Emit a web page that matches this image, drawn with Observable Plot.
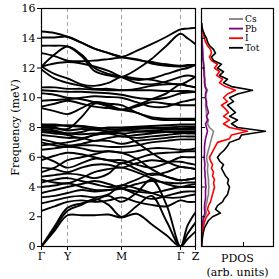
<!DOCTYPE html>
<html><head><meta charset="utf-8">
<script src="https://cdn.jsdelivr.net/npm/d3@7"></script>
<script src="https://cdn.jsdelivr.net/npm/@observablehq/plot@0.6"></script>
<style>
html,body{margin:0;padding:0;background:#fff;}
#wrap{position:relative;width:279px;height:279px;overflow:hidden;}
#wrap svg{position:absolute;top:0;}
#wrap svg, #wrap svg text, #wrap svg tspan{font-family:"DejaVu Serif","Liberation Serif",serif !important;}
</style></head>
<body><div id="wrap"></div>
<script>
// k-path (tick positions along path) and labels
const kPos = [0, 26, 80, 139, 154];
const kLabels = ["Γ", "Y", "M", "Γ", "Z"];
const kGrid = [0, 13, 26, 40, 53, 67, 80, 95, 110, 125, 139, 146, 154];
const yTicks = [0, 2, 4, 6, 8, 10, 12, 14, 16];

// phonon bands (meV) sampled on kGrid
const bands = [
  [14.45,14.35,14.1,13.7,13.3,13.0,12.75,13.15,13.6,14.1,14.6,14.65,14.7],
  [14.05,14.05,14.1,13.7,13.3,13.0,12.75,12.55,12.4,12.25,12.15,12.2,12.2],
  [13.5,13.5,13.45,12.8,11.8,11.5,11.4,11.9,12.6,13.5,14.3,14.0,13.6],
  [13.0,12.8,12.5,12.45,12.5,12.6,12.7,12.6,12.3,12.15,12.1,12.15,12.2],
  [12.1,12.9,13.45,12.9,12.0,11.6,11.4,11.2,11.3,11.6,11.9,12.0,12.2],
  [12.1,12.3,12.4,12.3,12.1,11.8,11.4,11.0,10.9,11.1,11.4,11.5,11.4],
  [12.1,11.6,11.3,10.9,10.8,11.0,11.4,11.3,11.2,11.0,10.9,11.1,11.4],
  [11.9,11.3,11.0,10.8,10.6,10.6,10.5,10.6,10.8,10.9,10.9,10.8,10.7],
  [10.7,10.7,10.6,10.6,10.55,10.5,10.5,10.5,10.5,10.45,10.45,10.45,10.4],
  [10.5,10.45,10.4,10.4,10.35,10.3,10.2,10.0,9.9,10.0,10.3,10.35,10.4],
  [10.3,10.2,10.0,9.9,9.7,9.4,9.2,9.5,9.9,10.3,10.9,10.8,10.7],
  [9.8,9.85,9.9,10.0,10.1,10.05,10.0,9.7,9.4,9.4,9.7,9.8,9.9],
  [9.4,9.6,9.8,9.6,9.4,9.3,9.2,9.4,9.7,9.6,9.5,9.5,9.5],
  [9.3,9.1,8.9,9.3,9.7,9.6,9.5,9.0,8.7,8.6,8.6,8.6,8.6],
  [8.2,8.0,7.9,8.7,9.6,9.5,9.2,9.0,8.6,8.5,8.5,8.5,8.5],
  [8.2,8.2,8.1,8.05,7.9,8.0,8.0,8.05,8.1,8.15,8.2,8.2,8.2],
  [8.0,7.95,7.8,7.9,7.85,7.75,7.8,7.9,7.95,8.0,8.05,8.05,8.05],
  [7.9,7.8,7.6,7.7,7.9,7.7,7.6,7.7,7.8,7.85,7.9,7.9,7.9],
  [7.7,7.6,7.5,7.3,7.5,7.6,7.4,7.5,7.6,7.7,7.75,7.75,7.75],
  [7.5,7.4,7.3,7.3,7.1,7.3,7.4,7.3,7.4,7.5,7.6,7.6,7.6],
  [7.2,7.0,6.8,6.9,7.1,7.1,6.9,7.1,7.2,7.3,7.4,7.4,7.4],
  [7.0,6.8,6.7,6.8,6.8,6.7,6.7,6.8,7.0,7.1,7.2,7.2,7.2],
  [6.5,6.6,6.7,6.6,6.4,6.4,6.3,5.9,5.2,4.7,4.45,4.5,4.6],
  [6.8,6.9,7.0,7.2,7.5,7.6,7.6,7.0,6.3,5.7,5.35,5.3,5.2],
  [7.8,7.7,7.6,7.55,7.6,7.7,7.8,7.75,7.7,7.7,7.7,7.7,7.7],
  [8.1,8.1,8.15,8.1,8.0,7.9,7.9,8.0,8.0,7.95,7.9,7.95,8.0],
  [6.1,5.7,5.3,5.6,5.9,5.8,5.6,5.9,6.2,6.3,6.35,6.4,6.4],
  [5.8,6.1,6.3,6.2,6.0,5.8,5.8,5.5,5.3,5.6,6.0,6.0,6.0],
  [5.3,5.2,5.0,5.3,5.5,5.5,5.3,5.6,5.8,5.7,5.7,5.6,5.5],
  [4.7,4.8,4.9,4.8,4.6,4.9,5.6,5.2,4.8,5.0,5.35,5.3,5.2],
  [5.0,5.3,5.8,6.0,6.2,6.4,6.3,6.4,6.6,6.6,6.5,6.5,6.6],
  [4.5,4.3,4.25,4.6,5.0,5.2,5.3,5.0,4.6,4.2,4.0,4.1,4.2],
  [4.3,4.5,4.6,4.4,4.2,4.0,4.1,4.5,4.9,4.7,4.45,4.5,4.6],
  [4.0,4.1,4.25,4.0,3.8,3.8,3.9,4.2,4.4,4.3,4.25,4.3,4.3],
  [3.6,3.8,4.0,4.2,4.4,4.2,3.9,3.7,3.6,3.8,4.0,4.0,4.0],
  [3.3,3.4,3.6,3.8,3.7,3.8,3.9,3.5,3.2,3.4,3.65,3.7,3.7],
  [2.9,3.1,3.3,3.4,3.3,3.5,4.1,3.9,3.6,3.3,3.3,3.4,3.5],
  [2.4,2.7,3.0,3.1,3.0,3.1,3.3,3.0,2.8,2.7,3.1,3.0,3.0],
  [0,1.05,2.1,2.1,2.1,2.15,1.95,2.2,1.5,0.75,0,0.5,1.0],
  [0,1.2,2.4,2.8,3.2,2.8,2.0,2.7,3.4,1.7,0,0.85,1.6],
  [0,1.35,2.6,2.9,3.1,3.4,3.0,3.6,4.5,2.8,0,1.4,2.3]
];

// PDOS (arb. units) on frequency grid 0..15 step 0.25
const pdosFreq = d3.range(0, 15.001, 0.25);
const dosCs = [0,0.1,0.2,0.4,0.6,1,1.5,2,3,5,4,4.5,5.5,6,7,7,7.5,7,7,6.5,6,6,6.5,5.5,5,6,7,8,9,10,11,12,8,6,7,5,5,4.5,4,4.5,4,4.5,6,4,3.5,3.5,3,3,2.5,2.5,2,1.5,1.5,1.2,1,0.7,0.5,0.3,0.2,0.1,0];
const dosPb = [0,0.1,0.2,0.3,0.5,0.7,1,1.5,2,3.5,3,3,3.5,4,4,4,4.5,4,4,3.5,3.5,3,3.5,3,2.5,3,3,3,3.5,4,5,6,5,4,6,5,7,6,5,5,4,4,5,3.5,3,3,2.5,2.5,2,2,1.5,1.2,1,1,0.7,0.5,0.3,0.2,0.1,0,0];
const dosI = [0,0.1,0.3,0.6,1,1.5,2.5,3.5,5,8,6,7,9,10,11,12,13,12,13,11,12,10,11,9,8,10,12,14,16,28,30,46,28,22,28,22,27,24,20,26,22,26,34,24,18,21,15,18,13,16,10,8,10,9,6,4,3,2,1,0.3,0];
const dosTot = [0,0.3,0.8,1.3,2,3,5,7,11,19,14,16,21,23,26,27,28,26,27,24,22,20,22,18,16,19,23,26,28,38,40,64,36,30,36,28,34,30,26,32,28,36,51,30,22,26,18,22,16,20,12,10,14,12,8,6,5,3,1.5,0.5,0];
const seriesNames = ["Cs", "Pb", "I", "Tot"];
const seriesColors = ["#808080", "#800080", "#ff0000", "#000000"];
const seriesValues = [dosCs, dosPb, dosI, dosTot];
const dosTick = [42];

const bandData = bands.flatMap((b, i) => b.map((f, j) => ({band: i, k: kGrid[j], f})));
const serif = "'DejaVu Serif', 'Liberation Serif', serif";
const font = {fontFamily: serif, fontSize: "11px", background: "transparent", color: "black", overflow: "visible"};

const p1 = Plot.plot({
  width: 196, height: 279, marginLeft: 41, marginRight: 1, marginTop: 8, marginBottom: 33,
  style: font,
  x: {domain: [0, 154]}, y: {domain: [0, 16]},
  marks: [
    Plot.ruleX(kPos.slice(1, 4), {stroke: "#999", strokeDasharray: "4 3", strokeWidth: 0.9}),
    Plot.line(bandData, {x: "k", y: "f", z: "band", curve: "catmull-rom", stroke: "black", strokeWidth: 1.9, clip: true}),
    Plot.frame({stroke: "black", strokeWidth: 1.2}),
    Plot.axisX({ticks: kPos, tickFormat: d => kLabels[kPos.indexOf(d)], tickSize: 4, tickPadding: 2, label: null, fontSize: 11}),
    Plot.axisY({ticks: yTicks, tickSize: 4, tickPadding: 2, label: "Frequency (meV)", labelAnchor: "center", labelArrow: "none", labelOffset: 30, fontSize: 11})
  ]
});
p1.style.left = "0px";

const p2marks = [];
seriesNames.forEach((name, s) => {
  const data = pdosFreq.map((f, j) => ({f, v: seriesValues[s][j]}));
  p2marks.push(Plot.line(data, {x: "v", y: "f", stroke: seriesColors[s], strokeWidth: 1.6, clip: true}));
});
const p2 = Plot.plot({
  width: 84, height: 279, marginLeft: 6, marginRight: 6, marginTop: 8, marginBottom: 33,
  style: font,
  x: {domain: [0, 72]}, y: {domain: [0, 16]},
  marks: [
    ...p2marks,
    Plot.frame({stroke: "black", strokeWidth: 1.2}),
    Plot.axisX({ticks: dosTick, tickSize: -4, tickFormat: () => "", label: null}),
    Plot.axisY({ticks: yTicks, tickSize: -4, tickFormat: () => "", label: null}),
    Plot.text(["PDOS\n(arb. units)"], {frameAnchor: "bottom", lineAnchor: "top", dy: 5, lineHeight: 1.3, fontSize: 11})
  ]
});
p2.style.left = "195px";

const wrap = document.getElementById("wrap");
wrap.appendChild(p1);
wrap.appendChild(p2);

// legend
const ns = "http://www.w3.org/2000/svg";
const lg = document.createElementNS(ns, "svg");
lg.setAttribute("width", 279); lg.setAttribute("height", 279);
lg.style.left = "0px"; lg.style.pointerEvents = "none";
seriesNames.forEach((name, s) => {
  const y = 19 + s * 9.6;
  const l = document.createElementNS(ns, "line");
  l.setAttribute("x1", 229); l.setAttribute("x2", 243); l.setAttribute("y1", y); l.setAttribute("y2", y);
  l.setAttribute("stroke", seriesColors[s]); l.setAttribute("stroke-width", 1.8);
  lg.appendChild(l);
  const t = document.createElementNS(ns, "text");
  t.setAttribute("x", 245); t.setAttribute("y", y); t.setAttribute("dy", "0.33em");
  t.setAttribute("font-size", "9px");
  t.textContent = name;
  lg.appendChild(t);
});
wrap.appendChild(lg);
</script></body></html>
